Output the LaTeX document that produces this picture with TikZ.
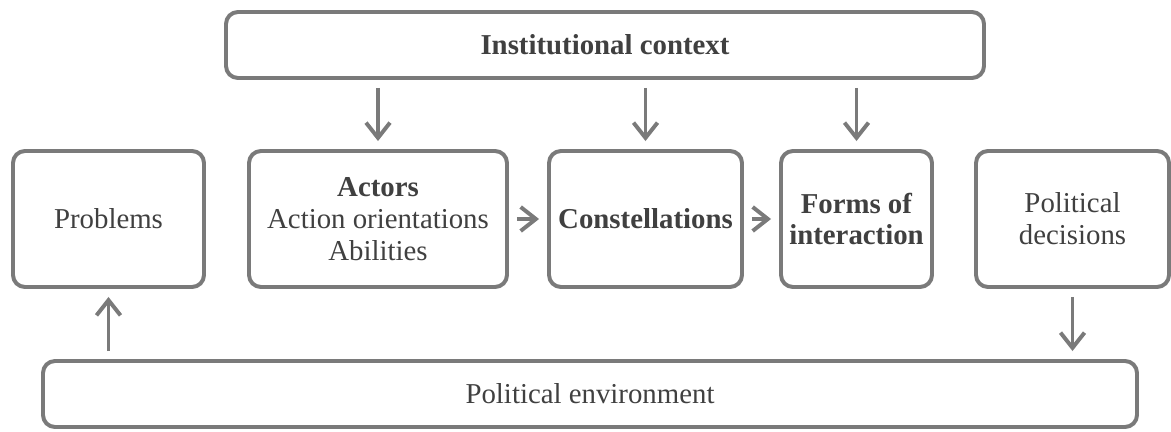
\documentclass[tikz,border=0pt]{standalone}
\usepackage{fontspec}
\setmainfont{Liberation Serif}
\usepackage{tikz}
\usetikzlibrary{arrows.meta}
\usepackage{xcolor}
\definecolor{marco}{HTML}{7A7A7A}
\definecolor{texto}{HTML}{404040}

\begin{document}
\begin{tikzpicture}[
    every node/.style={font=\fontsize{20.5}{22.7}\selectfont,align=center,text=texto},
    box/.style={draw=marco,line width=2.8pt,rounded corners=0.3cm,fill=white,minimum height=3.4cm},
    wide/.style={draw=marco,line width=2.8pt,rounded corners=0.3cm,fill=white,minimum height=1.65cm},
    flow/.style={-{Straight Barb[length=0.38cm,width=0.6cm]},line width=2.8pt,marco,shorten >=0.2cm,shorten <=0.2cm}
  ]
    \useasboundingbox (0,0) rectangle (29.275,-10.8);
    \node[wide,minimum width=18.95cm] (context) at (15.125,-1.125) {\textbf{Institutional context}};
    \node[box,minimum width=4.775cm] (problems) at (2.7125,-5.475) {Problems};
    \node[box,minimum width=6.45cm] (actors) at (9.45,-5.475) {\textbf{Actors}\\Action orientations\\Abilities};
    \node[box,minimum width=4.825cm] (constel) at (16.1375,-5.475) {\textbf{Constellations}};
    \node[box,minimum width=3.775cm] (forms) at (21.4125,-5.475) {\textbf{Forms of}\\\textbf{interaction}};
    \node[box,minimum width=4.825cm] (decisions) at (26.8125,-5.475) {Political\\decisions};
    \node[wide,minimum width=27.35cm] (environment) at (14.75,-9.85) {Political environment};
    % institutional context feeds the three middle boxes
    \draw[flow] (context.south -| actors) -- (actors);
    \draw[flow] (context.south -| constel) -- (constel);
    \draw[flow] (context.south -| forms) -- (forms);
    \draw[flow] (actors) -- (constel);
    \draw[flow] (constel) -- (forms);
    % loop through the political environment
    \draw[flow] (environment.north -| problems) -- (problems);
    \draw[flow] (decisions) -- (environment.north -| decisions);
  \end{tikzpicture}
\end{document}
